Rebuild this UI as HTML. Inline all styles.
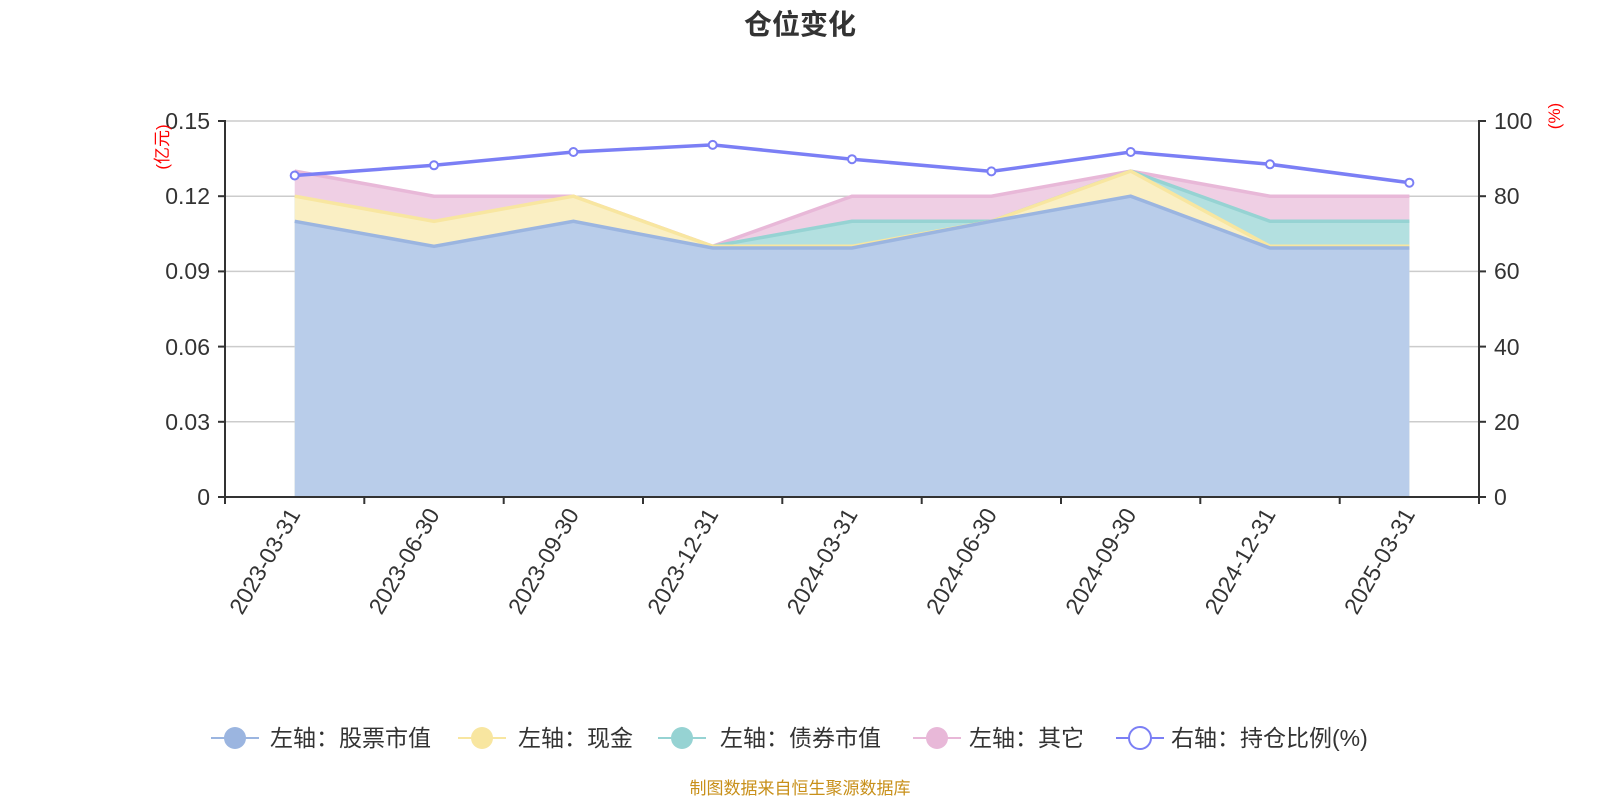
<!DOCTYPE html>
<html><head><meta charset="utf-8"><style>
html,body{margin:0;padding:0;background:#fff;}
svg{display:block;font-family:"Liberation Sans","Noto Sans CJK SC",sans-serif;}
</style></head><body>
<svg width="1600" height="800" viewBox="0 0 1600 800" xmlns="http://www.w3.org/2000/svg">
<text x="800" y="34" text-anchor="middle" font-size="28" font-weight="bold" fill="#333">仓位变化</text>
<g stroke="#ccc" stroke-width="1.5">
<line x1="225" y1="121" x2="1479" y2="121"/>
<line x1="225" y1="196.2" x2="1479" y2="196.2"/>
<line x1="225" y1="271.4" x2="1479" y2="271.4"/>
<line x1="225" y1="346.6" x2="1479" y2="346.6"/>
<line x1="225" y1="421.8" x2="1479" y2="421.8"/>
</g>
<polygon fill="#efcfe4" points="294.7,497 294.7,171.1 434,196.2 573.4,196.2 712.7,246.3 852,196.2 991.4,196.2 1130.7,171.1 1270,196.2 1409.4,196.2 1409.4,497"/>
<polyline fill="none" stroke="#e8b8d8" stroke-width="3.5" points="294.7,171.1 434,196.2 573.4,196.2 712.7,246.3 852,196.2 991.4,196.2 1130.7,171.1 1270,196.2 1409.4,196.2"/>
<polygon fill="#b3e0e0" points="294.7,497 294.7,196.2 434,221.3 573.4,196.2 712.7,246.3 852,221.3 991.4,221.3 1130.7,171.1 1270,221.3 1409.4,221.3 1409.4,497"/>
<polyline fill="none" stroke="#96d3d3" stroke-width="3.5" points="712.7,246.3 852,221.3 991.4,221.3 1130.7,171.1 1270,221.3 1409.4,221.3"/>
<polygon fill="#faefc4" points="294.7,497 294.7,196.2 434,221.3 573.4,196.2 712.7,246.3 852,246.3 991.4,221.3 1130.7,171.1 1270,246.3 1409.4,246.3 1409.4,497"/>
<polyline fill="none" stroke="#f8e6a0" stroke-width="3.5" points="294.7,196.2 434,221.3 573.4,196.2 712.7,246.3 852,246.3 991.4,221.3 1130.7,171.1 1270,246.3 1409.4,246.3"/>
<polygon fill="#b9cdea" points="294.7,497 294.7,221.3 434,248 573.4,221.3 712.7,248 852,248 991.4,221.3 1130.7,196.2 1270,248 1409.4,248 1409.4,497"/>
<polyline fill="none" stroke="#9bb5e0" stroke-width="3.5" points="294.7,221.3 434,246.3 573.4,221.3 712.7,248 852,248 991.4,221.3 1130.7,196.2 1270,248 1409.4,248"/>
<polyline fill="none" stroke="#7b7ff5" stroke-width="3.5" points="294.7,175.5 434,165.3 573.4,152 712.7,144.9 852,159.2 991.4,171.4 1130.7,152 1270,164.3 1409.4,182.7"/>
<g fill="#fff" stroke="#7b7ff5" stroke-width="2">
<circle cx="294.7" cy="175.5" r="4"/><circle cx="434" cy="165.3" r="4"/><circle cx="573.4" cy="152" r="4"/><circle cx="712.7" cy="144.9" r="4"/><circle cx="852" cy="159.2" r="4"/><circle cx="991.4" cy="171.4" r="4"/><circle cx="1130.7" cy="152" r="4"/><circle cx="1270" cy="164.3" r="4"/><circle cx="1409.4" cy="182.7" r="4"/>
</g>
<g stroke="#333" stroke-width="2">
<line x1="225" y1="120" x2="225" y2="498"/>
<line x1="1479" y1="120" x2="1479" y2="498"/>
<line x1="224" y1="497" x2="1480" y2="497"/>
<line x1="218" y1="121" x2="225" y2="121"/><line x1="218" y1="196.2" x2="225" y2="196.2"/><line x1="218" y1="271.4" x2="225" y2="271.4"/><line x1="218" y1="346.6" x2="225" y2="346.6"/><line x1="218" y1="421.8" x2="225" y2="421.8"/><line x1="218" y1="497" x2="225" y2="497"/>
<line x1="1479" y1="121" x2="1486" y2="121"/><line x1="1479" y1="196.2" x2="1486" y2="196.2"/><line x1="1479" y1="271.4" x2="1486" y2="271.4"/><line x1="1479" y1="346.6" x2="1486" y2="346.6"/><line x1="1479" y1="421.8" x2="1486" y2="421.8"/><line x1="1479" y1="497" x2="1486" y2="497"/>
<line x1="225" y1="497" x2="225" y2="504"/><line x1="364.3" y1="497" x2="364.3" y2="504"/><line x1="503.7" y1="497" x2="503.7" y2="504"/><line x1="643" y1="497" x2="643" y2="504"/><line x1="782.3" y1="497" x2="782.3" y2="504"/><line x1="921.7" y1="497" x2="921.7" y2="504"/><line x1="1061" y1="497" x2="1061" y2="504"/><line x1="1200.3" y1="497" x2="1200.3" y2="504"/><line x1="1339.7" y1="497" x2="1339.7" y2="504"/><line x1="1479" y1="497" x2="1479" y2="504"/>
</g>
<g font-size="23" fill="#333" text-anchor="end">
<text x="210" y="129">0.15</text><text x="210" y="204">0.12</text><text x="210" y="279">0.09</text><text x="210" y="355">0.06</text><text x="210" y="430">0.03</text><text x="210" y="505">0</text>
</g>
<g font-size="23" fill="#333" text-anchor="start">
<text x="1494" y="129">100</text><text x="1494" y="204">80</text><text x="1494" y="279">60</text><text x="1494" y="355">40</text><text x="1494" y="430">20</text><text x="1494" y="505">0</text>
</g>
<text transform="translate(168,147) rotate(-90)" font-size="17" fill="#f00" text-anchor="middle">(亿元)</text>
<text transform="translate(1560,116) rotate(-90)" font-size="17" fill="#f00" text-anchor="middle">(%)</text>
<g font-size="23" fill="#333" text-anchor="end">
<text transform="translate(301,514) rotate(-60)">2023-03-31</text>
<text transform="translate(440.3,514) rotate(-60)">2023-06-30</text>
<text transform="translate(579.7,514) rotate(-60)">2023-09-30</text>
<text transform="translate(719,514) rotate(-60)">2023-12-31</text>
<text transform="translate(858.3,514) rotate(-60)">2024-03-31</text>
<text transform="translate(997.7,514) rotate(-60)">2024-06-30</text>
<text transform="translate(1137,514) rotate(-60)">2024-09-30</text>
<text transform="translate(1276.3,514) rotate(-60)">2024-12-31</text>
<text transform="translate(1415.7,514) rotate(-60)">2025-03-31</text>
</g>
<g font-size="23" fill="#333">
<line x1="211" y1="738" x2="259" y2="738" stroke="#9bb5e0" stroke-width="2"/><circle cx="235" cy="738" r="11" fill="#9bb5e0"/>
<text x="270" y="746">左轴：股票市值</text>
<line x1="458" y1="738" x2="506" y2="738" stroke="#f8e6a0" stroke-width="2"/><circle cx="482" cy="738" r="11" fill="#f8e6a0"/>
<text x="518" y="746">左轴：现金</text>
<line x1="658" y1="738" x2="706" y2="738" stroke="#96d3d3" stroke-width="2"/><circle cx="682" cy="738" r="11" fill="#96d3d3"/>
<text x="720" y="746">左轴：债券市值</text>
<line x1="913" y1="738" x2="961" y2="738" stroke="#e8b8d8" stroke-width="2"/><circle cx="937" cy="738" r="11" fill="#e8b8d8"/>
<text x="969" y="746">左轴：其它</text>
<line x1="1116" y1="738" x2="1164" y2="738" stroke="#7b7ff5" stroke-width="2"/><circle cx="1140" cy="738" r="11" fill="#fff" stroke="#7b7ff5" stroke-width="2"/>
<text x="1171" y="746">右轴：持仓比例(%)</text>
</g>
<text x="800" y="794" text-anchor="middle" font-size="17" fill="#c8901a">制图数据来自恒生聚源数据库</text>
</svg>
</body></html>
